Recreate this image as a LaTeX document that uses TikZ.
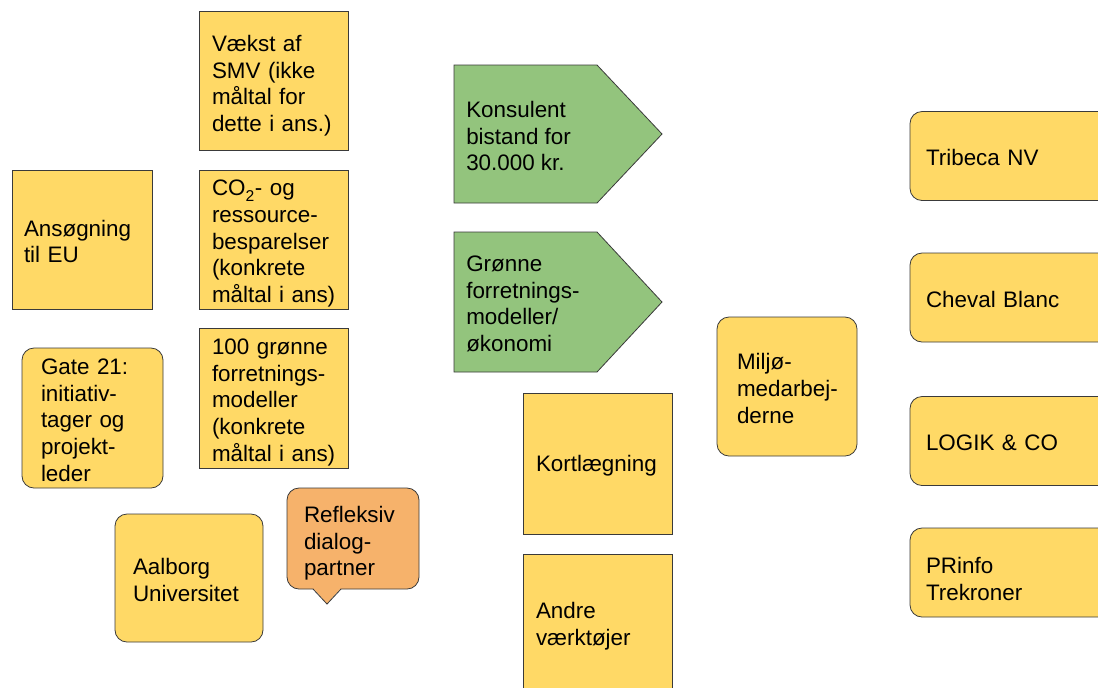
\documentclass[tikz,border=0pt]{standalone}
\usepackage{fontspec}
\setmainfont{Liberation Sans}
\usetikzlibrary{positioning}
\definecolor{cardyellow}{HTML}{FFD966}
\definecolor{taggreen}{HTML}{93C47D}
\definecolor{talkorange}{HTML}{F6B26B}
\definecolor{edgegray}{HTML}{3A3A3A}
\hyphenpenalty=10000
\exhyphenpenalty=10000
\newcommand\cardfont{\fontsize{16.8}{20}\selectfont}
\tikzset{
    card/.style={draw=edgegray, line width=0.6pt, fill=cardyellow, align=left,
        font=\cardfont, inner xsep=0pt, inner ysep=0pt, textdrop=15pt},
    % a tall strut on the first line pushes the text down in its card
    textdrop/.style={execute at begin node={\rule{0pt}{#1}}},
    % width, height, text width
    sqcard/.style n args={3}{card, minimum width=#1, minimum height=#2, text width=#3},
    rdcard/.style n args={3}{sqcard={#1}{#2}{#3}, rounded corners=9pt},
    tag/.style={draw=edgegray, line width=0.6pt, fill=taggreen},
    tagtext/.style={align=left, inner sep=0pt, font=\cardfont}
}
\begin{document}
\begin{tikzpicture}[x=0.75pt, y=-0.75pt]
    \clip[use as bounding box] (0,0) rectangle (1098,687);
    \fill[white] (0,0) rectangle (1098,687);
    % left part
    \node[sqcard={111.75pt}{104.25pt}{92.25pt}, textdrop=20pt] (vaekst) at (273.5,80.5) {Vækst~af\\SMV~(ikke\\måltal~for\\dette~i~ans.)};
    \node[sqcard={111.75pt}{104.25pt}{92.25pt}, textdrop=18pt] (co2) at (273.5,239.5) {CO\textsubscript{\raisebox{-2pt}{2}}-~og\\ressource-\\besparelser\\(konkrete\\måltal~i~ans)};
    \node[sqcard={111.75pt}{105pt}{92.25pt}, textdrop=18pt] (hundrede) at (273.5,398) {100~grønne\\forretnings-\\modeller\\(konkrete\\måltal~i~ans)};
    \node[sqcard={105pt}{104.25pt}{87pt}] (ansoegning) at (82,239.5) {Ansøgning\\til~EU};
    \node[rdcard={105.75pt}{105pt}{77.25pt}] (gate) at (92.5,418) {Gate~21:\\initiativ-\\tager~og\\projekt-\\leder};
    \node[rdcard={111pt}{96pt}{84pt}] (aau) at (189,578) {Aalborg\\Universitet};
    \node[rdcard={99pt}{75.75pt}{73.5pt}, fill=talkorange, textdrop=19.5pt] (refleksiv) at (353,538.5) {Refleksiv\\dialog-\\partner};
    \coordinate (tip) at (327,604);
    \fill[talkorange] (313,588) -- (tip) -- (341,588) -- cycle;
    \draw[edgegray, line width=0.6pt] (313,589) -- (tip) -- (341,589);
    % green tags
    \draw[tag] (454,65) -- (597,65) -- (662,134) -- (597,203) -- (454,203) -- cycle;
    \node[tagtext, anchor=west] (konsulent) at (466,136) {Konsulent\\bistand for\\30.000 kr.};
    \draw[tag] (454,232) -- (597,232) -- (662,302) -- (597,372) -- (454,372) -- cycle;
    \node[tagtext, anchor=west] (groenne) at (466,304) {Grønne\\forretnings-\\modeller/\\økonomi};
    % middle
    \node[sqcard={111.75pt}{105.75pt}{92.25pt}] (kortlaegning) at (597.5,463.5) {Kortlægning};
    \node[sqcard={111.75pt}{105pt}{92.25pt}] (andre) at (597.5,624) {Andre\\værktøjer};
    \node[rdcard={105pt}{104.25pt}{75pt}] (miljoe) at (787,386.5) {Miljø-\\medarbej-\\derne};
    % right column
    \foreach \y/\nm/\txt/\dr in {156/tribeca/Tribeca~NV/15pt, 297.5/cheval/Cheval~Blanc/15pt,
        441/logik/{LOGIK~\&~CO}/15pt, 572.5/prinfo/{PRinfo\\Trekroner}/21.75pt}
        \node[rdcard={150pt}{66.75pt}{126pt}, textdrop=\dr] (\nm) at (1010,\y) {\txt};
\end{tikzpicture}
\end{document}
